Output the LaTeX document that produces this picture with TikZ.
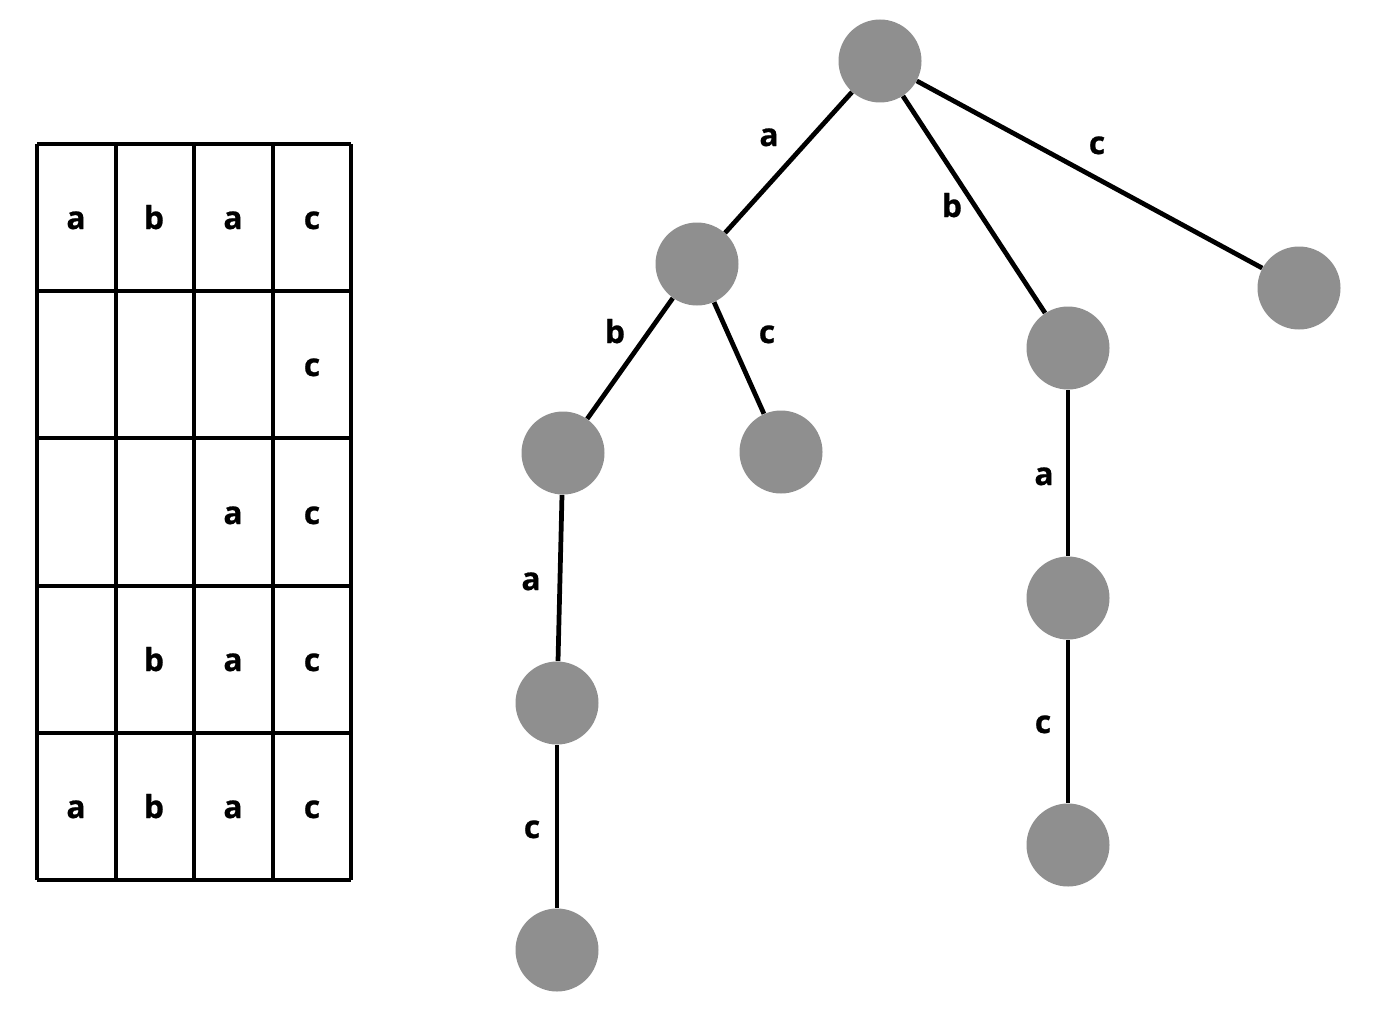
\documentclass[tikz,border=0pt]{standalone}
\usepackage{fontspec}
\setmainfont{Open Sans}[BoldFeatures={FakeBold=0.8}]
\begin{document}
\begin{tikzpicture}[x=0.02cm,y=-0.02cm,
  vert/.style={circle,fill=nodegray,minimum size=83*0.02cm,inner sep=0pt},
  edge/.style={line width=2.7pt,black},
  lbl/.style={font=\fontsize{18}{21}\selectfont\bfseries,inner sep=0pt,anchor=base},
  grid/.style={line width=2.7pt,black}]
\definecolor{nodegray}{HTML}{8F8F8F}
\useasboundingbox (0,0) rectangle (1385,1034);
% table
\foreach \x in {37,116,194,273,351} \draw[grid] (\x,144) -- (\x,880);
\foreach \y in {144,291,438,586,733,880} \draw[grid] (37,\y) -- (351,\y);
\foreach \t/\x/\y [count=\i] in {a/76/229,b/154/229,a/233/229,c/312/229,
  c/312/376, a/233/524,c/312/524, b/154/671,a/233/671,c/312/671,
  a/76/818,b/154/818,a/233/818,c/312/818}
  \node[lbl] (t\i) at (\x,\y) {\t};
% tree
\node[vert] (r) at (880,61) {};
\node[vert] (A) at (697,264) {};
\node[vert] (B) at (1068,348) {};
\node[vert] (C) at (1299,288) {};
\node[vert] (AB) at (563,453) {};
\node[vert] (AC) at (781,452) {};
\node[vert] (ABA) at (557,703) {};
\node[vert] (ABAC) at (557,950) {};
\node[vert] (BA) at (1068,598) {};
\node[vert] (BAC) at (1068,845) {};
\draw[edge] (r) -- (A);
\draw[edge] (r) -- (B);
\draw[edge] (r) -- (C);
\draw[edge] (A) -- (AB);
\draw[edge] (A) -- (AC);
\draw[edge] (AB) -- (ABA);
\draw[edge] (ABA) -- (ABAC);
\draw[edge] (B) -- (BA);
\draw[edge] (BA) -- (BAC);
\node[lbl] (la) at (769,146) {a};
\node[lbl] (lb) at (952,217) {b};
\node[lbl] (lc) at (1097,154) {c};
\node[lbl] (lab) at (615,343) {b};
\node[lbl] (lac) at (767,343) {c};
\node[lbl] (laba) at (531,590) {a};
\node[lbl] (labac) at (532,838) {c};
\node[lbl] (lba) at (1044,485) {a};
\node[lbl] (lbac) at (1043,733) {c};
\end{tikzpicture}
\end{document}
